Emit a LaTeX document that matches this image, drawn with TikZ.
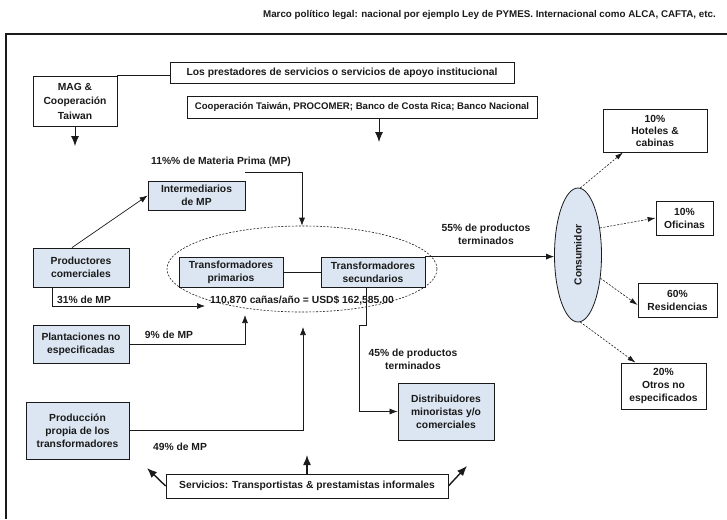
\documentclass[tikz,border=0pt]{standalone}
\usepackage{fontspec}
\setmainfont{Liberation Sans}
\usepackage{graphicx}
\usepackage{tikz}
\usetikzlibrary{arrows.meta,shapes.geometric,calc}
\definecolor{ink}{HTML}{1A1A1A}
\definecolor{boxfill}{HTML}{DCE6F2}
\tikzset{
  every node/.style={font=\fontsize{10.3}{13}\selectfont\bfseries, text=ink},
  actor/.style={draw=ink, fill=boxfill, line width=0.8pt, align=center, inner sep=0pt},
  plain/.style={draw=ink, fill=white, line width=0.8pt, align=center, inner sep=0pt},
  link/.style={draw=ink, line width=0.7pt},
  flow/.style={link, -{Latex[length=8pt,width=6pt]}},
  share/.style={draw=ink, line width=0.6pt, dash pattern=on 2pt off 1.5pt, -{Latex[length=8pt,width=5pt]}},
  support/.style={draw=ink, line width=1.4pt, -{Latex[length=10pt,width=8pt]}},
  lab/.style={align=center, inner sep=0pt}
}

\begin{document}
\begin{tikzpicture}[x=1pt,y=-1pt]
  \useasboundingbox (0,0) rectangle (727,519);
  \draw[ink, line width=1.2pt] (727,34) -- (6,34) -- (6,519);

  \node[anchor=east, inner sep=0pt, font=\fontsize{9.8}{12}\selectfont\bfseries] (marco) at (716,15) {Marco político legal: nacional por ejemplo Ley de PYMES. Internacional como ALCA, CAFTA, etc.};

  % apoyo institucional
  \node[plain, minimum width=344, minimum height=21] (los) at (342,72.5) {Los prestadores de servicios o servicios de apoyo institucional};
  \node[plain, minimum width=84, minimum height=50, font=\fontsize{10.3}{14.5}\selectfont\bfseries] (mag) at (75,101) {MAG \&\\Cooperación\\Taiwan};
  \node[plain, minimum width=350, minimum height=22, font=\fontsize{9.6}{12}\selectfont\bfseries] (coop) at (362,107) {Cooperación Taiwán, PROCOMER; Banco de Costa Rica; Banco Nacional};
  \coordinate (magend) at (71,146);
  \coordinate (coopend) at (379,142);

  % materia prima
  \node[actor, minimum width=97, minimum height=29] (inter) at (196.5,195.5) {Intermediarios\\de MP};
  \node[actor, minimum width=96, minimum height=39] (prod) at (81,267.5) {Productores\\comerciales};
  \node[actor, minimum width=96, minimum height=38] (plant) at (81,344) {Plantaciones no\\especificadas};
  \node[actor, minimum width=103, minimum height=57] (prop) at (77.5,430.5) {Producción\\propia de los\\transformadores};

  % transformadores
  \node[ellipse, draw=ink, dash pattern=on 2pt off 1.5pt, line width=0.6pt, minimum width=270, minimum height=86] (grupo) at (302,269) {};
  \node[actor, minimum width=104, minimum height=30] (prim) at (231,272) {Transformadores\\primarios};
  \node[actor, minimum width=104, minimum height=30] (sec) at (373,272) {Transformadores\\secundarios};
  \node[lab] (canas) at (302,300) {110,870 cañas/año = USD\$ 162,585.00};
  \coordinate (mpline) at (245,172);
  \coordinate (in31) at (205,306);
  \coordinate (in9) at (245,315);
  \coordinate (in49) at (303,327);
  \coordinate (bend) at (359,325);

  \node[actor, minimum width=96, minimum height=57] (dist) at (446,411.5) {Distribuidores\\minoristas y/o\\comerciales};
  \node[plain, minimum width=282, minimum height=24] (serv) at (307,486) {Servicios: Transportistas \& prestamistas informales};
  \coordinate (s1) at (147,468);
  \coordinate (s2) at (307,455);
  \coordinate (s3) at (467,466);

  % consumidor
  \node[ellipse, draw=ink, fill=boxfill, line width=0.8pt, minimum width=47, minimum height=134, inner sep=0pt] (cons) at (578,255) {\rotatebox{90}{Consumidor}};
  \node[plain, minimum width=104, minimum height=43, font=\fontsize{10.3}{12}\selectfont\bfseries] (hot) at (655,130.5) {10\%\\Hoteles \&\\cabinas};
  \node[plain, minimum width=57, minimum height=34] (ofi) at (684.5,218) {10\%\\Oficinas};
  \node[plain, minimum width=79, minimum height=34] (res) at (677.5,300) {60\%\\Residencias};
  \node[plain, minimum width=85, minimum height=46] (otr) at (663.5,386) {20\%\\Otros no\\especificados};

  \node[lab] (lab11) at (221,162) {11\%\% de Materia Prima (MP)};
  \node[lab] (lab31) at (84,300) {31\% de MP};
  \node[lab] (lab9) at (169,335) {9\% de MP};
  \node[lab] (lab49) at (180,447) {49\% de MP};
  \node[lab] (lab55) at (486,234) {55\% de productos\\terminados};
  \node[lab] (lab45) at (413,359.5) {45\% de productos\\terminados};

  \draw[link] (mag.north east) -- (mag.north east -| los.west);
  \draw[support, line width=0.8pt] (mag.south) -- (mag.south |- magend);
  \draw[support, line width=0.8pt] ([xshift=17pt]coop.south) -- (coopend);

  \draw[flow] ([xshift=-9pt]prod.north) -- (inter.west);
  \draw[flow] (mpline) -- (mpline -| grupo.north) -- (grupo.north);
  \draw[flow] ([xshift=-29pt]prod.south) |- (in31);
  \draw[flow] (plant.east) -| (in9);
  \draw[flow] (prop.east) -| (in49);
  \draw[link] (prim.east) -- (sec.west);
  \draw[flow] (sec.north east) -- (sec.north east -| cons.west);
  \draw[flow] ([xshift=-7pt]sec.south) |- (bend) |- (dist.west);

  \draw[share] (cons.88) -- (hot.south west -| 623,0);
  \draw[share] (cons.51) -- (ofi.west);
  \draw[share] (cons.-46) -- ([yshift=-5pt]res.west);
  \draw[share] (cons.-88) -- ([xshift=-28pt]otr.north);

  \draw[support] (serv.west) -- (s1);
  \draw[support] (serv.north) -- (s2);
  \draw[support] (serv.east) -- (s3);
\end{tikzpicture}
\end{document}
